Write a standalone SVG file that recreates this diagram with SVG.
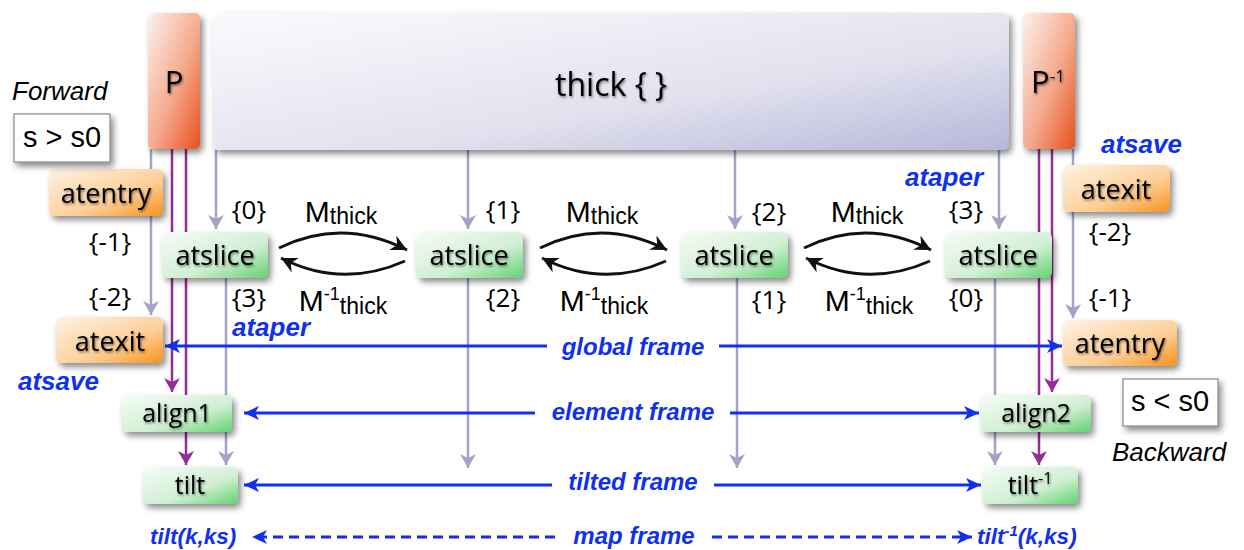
<svg xmlns="http://www.w3.org/2000/svg" width="1244" height="550" viewBox="0 0 1244 550">
<defs>
  <linearGradient id="gGreen" x1="0" y1="0" x2="1" y2="1">
    <stop offset="0" stop-color="#f6fcf6"/>
    <stop offset="0.6" stop-color="#d0efd3"/>
    <stop offset="1" stop-color="#62d270"/>
  </linearGradient>
  <linearGradient id="gOrange" x1="0" y1="0" x2="1" y2="1">
    <stop offset="0" stop-color="#fff2e4"/>
    <stop offset="0.6" stop-color="#fdcf98"/>
    <stop offset="1" stop-color="#f7921c"/>
  </linearGradient>
  <linearGradient id="gRed" x1="0" y1="0" x2="1" y2="1">
    <stop offset="0" stop-color="#fdf2ee"/>
    <stop offset="0.55" stop-color="#f4a88a"/>
    <stop offset="1" stop-color="#e8501c"/>
  </linearGradient>
  <linearGradient id="gThick" x1="0" y1="0" x2="1" y2="1">
    <stop offset="0" stop-color="#fafafd"/>
    <stop offset="0.6" stop-color="#e2e2ef"/>
    <stop offset="1" stop-color="#b6b6da"/>
  </linearGradient>
  <filter id="shadow" x="-20%" y="-20%" width="150%" height="150%">
    <feDropShadow dx="3" dy="4" stdDeviation="3" flood-color="#000" flood-opacity="0.45"/>
  </filter>
  <filter id="tshadow" x="-10%" y="-20%" width="130%" height="150%">
    <feDropShadow dx="1" dy="1.5" stdDeviation="1" flood-color="#000" flood-opacity="0.5"/>
  </filter>
  <marker id="aGray" markerUnits="userSpaceOnUse" markerWidth="16" markerHeight="16" refX="14" refY="8" orient="auto">
    <path d="M0,0 L14,8 L0,16 L4,8 Z" fill="#a3a3c8"/>
  </marker>
  <marker id="aPurple" markerUnits="userSpaceOnUse" markerWidth="16" markerHeight="16" refX="14" refY="8" orient="auto">
    <path d="M0,0 L14,8 L0,16 L4,8 Z" fill="#952b95"/>
  </marker>
  <marker id="aBlue" markerUnits="userSpaceOnUse" markerWidth="16" markerHeight="14" refX="15" refY="7" orient="auto">
    <path d="M0,0 L15,7 L0,14 L4,7 Z" fill="#1030f0"/>
  </marker>
  <marker id="aBlack" markerUnits="userSpaceOnUse" markerWidth="18" markerHeight="16" refX="16" refY="8" orient="auto">
    <path d="M0,0 L16,8 L0,16 L5,8 Z" fill="#111"/>
  </marker>
  <style>
    .node { filter: url(#shadow); }
    .green { fill: url(#gGreen); }
    .orange { fill: url(#gOrange); }
    .red { fill: url(#gRed); }
    .thick { fill: url(#gThick); }
    .box { fill: #fff; stroke: #888; stroke-width: 1.2; }
    .lbl { font-family: "Open Sans", "DejaVu Sans", sans-serif; font-size: 27px; fill: #000; text-anchor: middle; dominant-baseline: central; filter: url(#tshadow); }
    .gray { stroke: #a3a3c8; stroke-width: 2.5; fill: none; marker-end: url(#aGray); }
    .purple { stroke: #952b95; stroke-width: 2.5; fill: none; }
    .pa { marker-end: url(#aPurple); }
    .blue { stroke: #1030f0; stroke-width: 3; fill: none; }
    .dash { stroke-dasharray: 10 6; }
    .black { stroke: #111; stroke-width: 3; fill: none; marker-end: url(#aBlack); }
    .ab { marker-end: url(#aBlue); }
    .br { font-family: "Open Sans", "DejaVu Sans", sans-serif; font-size: 26px; fill: #000; text-anchor: middle; dominant-baseline: central; }
    .bl { font-family: "Liberation Sans", Arial, sans-serif; font-weight: bold; font-style: italic; font-size: 24px; fill: #1030f0; }
    .bls { font-family: "Liberation Sans", Arial, sans-serif; font-weight: bold; font-style: italic; font-size: 22.5px; fill: #1030f0; }
    .bl2 { font-family: "Liberation Sans", Arial, sans-serif; font-weight: bold; font-style: italic; font-size: 26px; fill: #1030f0; }
    .m { font-family: "Liberation Sans", Arial, sans-serif; font-size: 30px; fill: #000; text-anchor: middle; }
    .side { font-family: "Liberation Sans", Arial, sans-serif; font-style: italic; font-size: 26px; fill: #000; }
    .cond { font-family: "Liberation Sans", Arial, sans-serif; font-size: 29px; fill: #000; text-anchor: middle; dominant-baseline: central; }
  </style>
</defs>
<rect width="1244" height="550" fill="#fff"/>

<g id="connectors">
  <line class="gray" x1="151" y1="149" x2="151" y2="315"/>
  <line class="gray" x1="216" y1="150" x2="216" y2="229"/>
  <line class="gray" x1="226" y1="278" x2="226" y2="465"/>
  <line class="gray" x1="468" y1="150" x2="468" y2="229"/>
  <line class="gray" x1="468" y1="278" x2="468" y2="468"/>
  <line class="gray" x1="735" y1="150" x2="735" y2="229"/>
  <line class="gray" x1="737" y1="278" x2="737" y2="468"/>
  <line class="gray" x1="999" y1="150" x2="999" y2="229"/>
  <line class="gray" x1="995" y1="279" x2="995" y2="465"/>
  <line class="gray" x1="1073" y1="149" x2="1073" y2="318"/>
  <line class="purple pa" x1="172" y1="149" x2="172" y2="392"/>
  <line class="purple pa" x1="186" y1="149" x2="186" y2="465"/>
  <line class="purple pa" x1="1039" y1="149" x2="1039" y2="465"/>
  <line class="purple pa" x1="1052" y1="149" x2="1052" y2="392"/>
  <path class="black" d="M279,248 Q342,217 407,250"/>
  <path class="black" d="M405,261 Q342,289 281,258"/>
  <path class="black" d="M540,248 Q603,217 667,250"/>
  <path class="black" d="M666,261 Q603,289 542,258"/>
  <path class="black" d="M804,248 Q867,217 931,250"/>
  <path class="black" d="M930,261 Q867,289 806,258"/>
  <line class="blue ab" x1="547" y1="346" x2="165" y2="346"/>
  <line class="blue ab" x1="719" y1="346" x2="1062" y2="346"/>
  <line class="blue ab" x1="535" y1="413" x2="244" y2="413"/>
  <line class="blue ab" x1="730" y1="413" x2="979" y2="413"/>
  <line class="blue ab" x1="552" y1="485" x2="244" y2="485"/>
  <line class="blue ab" x1="714" y1="485" x2="981" y2="485"/>
  <line class="blue dash ab" x1="555" y1="537" x2="252" y2="537"/>
  <line class="blue dash ab" x1="712" y1="537" x2="972" y2="537"/>
</g>

<g id="P">
  <rect class="node red" x="148" y="13" width="52" height="136" rx="5"/>
  <text class="lbl" x="174" y="81" style="font-size:31px">P</text>
</g>
<g id="thick">
  <rect class="node thick" x="213" y="13" width="796" height="137" rx="6"/>
  <text class="lbl" x="611" y="83" style="font-size:32px">thick { }</text>
</g>
<g id="Pinv">
  <rect class="node red" x="1023" y="13" width="52" height="136" rx="5"/>
  <text class="lbl" x="1048" y="81" style="font-size:31px">P<tspan font-size="17" dy="-6">-1</tspan></text>
</g>
<g id="atentry-left">
  <rect class="node orange" x="49" y="169" width="114" height="47" rx="6"/>
  <text class="lbl" x="106" y="192">atentry</text>
</g>
<g id="atexit-left">
  <rect class="node orange" x="56" y="317" width="107" height="46" rx="6"/>
  <text class="lbl" x="110" y="340">atexit</text>
</g>
<g id="atslice0">
  <rect class="node green" x="162" y="232" width="106" height="46" rx="6"/>
  <text class="lbl" x="215" y="254">atslice</text>
</g>
<g id="atslice1">
  <rect class="node green" x="416" y="232" width="107" height="46" rx="6"/>
  <text class="lbl" x="469" y="254">atslice</text>
</g>
<g id="atslice2">
  <rect class="node green" x="681" y="232" width="107" height="46" rx="6"/>
  <text class="lbl" x="734" y="254">atslice</text>
</g>
<g id="atslice3">
  <rect class="node green" x="945" y="232" width="107" height="46" rx="6"/>
  <text class="lbl" x="998" y="254">atslice</text>
</g>
<g id="atexit-right">
  <rect class="node orange" x="1063" y="165" width="107" height="47" rx="6"/>
  <text class="lbl" x="1116" y="188">atexit</text>
</g>
<g id="atentry-right">
  <rect class="node orange" x="1063" y="320" width="114" height="46" rx="6"/>
  <text class="lbl" x="1120" y="342">atentry</text>
</g>
<g id="align1">
  <rect class="node green" x="122" y="395" width="110" height="37" rx="5"/>
  <text class="lbl" x="177" y="412" style="font-size:25px">align1</text>
</g>
<g id="tilt">
  <rect class="node green" x="143" y="467" width="95" height="37" rx="5"/>
  <text class="lbl" x="190" y="484" style="font-size:25px">tilt</text>
</g>
<g id="align2">
  <rect class="node green" x="981" y="395" width="110" height="37" rx="5"/>
  <text class="lbl" x="1036" y="412" style="font-size:25px">align2</text>
</g>
<g id="tiltinv">
  <rect class="node green" x="983" y="467" width="95" height="37" rx="5"/>
  <text class="lbl" x="1030" y="484" style="font-size:25px">tilt<tspan font-size="16" dy="-6">-1</tspan></text>
</g>
<g id="forward-cond">
  <rect class="box node" x="14" y="114" width="96" height="48"/>
  <text class="cond" x="62" y="137">s &gt; s0</text>
</g>
<g id="backward-cond">
  <rect class="box node" x="1123" y="379" width="95" height="47"/>
  <text class="cond" x="1170" y="401">s &lt; s0</text>
</g>

<g id="labels">
  <text class="side" x="12" y="100">Forward</text>
  <text class="side" x="1112" y="461">Backward</text>

  <text class="br" x="249" y="209">{0}</text>
  <text class="br" x="249" y="297">{3}</text>
  <text class="br" x="503" y="209">{1}</text>
  <text class="br" x="503" y="297">{2}</text>
  <text class="br" x="769" y="211">{2}</text>
  <text class="br" x="769" y="299">{1}</text>
  <text class="br" x="966" y="209">{3}</text>
  <text class="br" x="966" y="297">{0}</text>
  <text class="br" x="110" y="241">{-1}</text>
  <text class="br" x="110" y="296">{-2}</text>
  <text class="br" x="1110" y="231">{-2}</text>
  <text class="br" x="1110" y="297">{-1}</text>

  <text class="m" x="341" y="222">M<tspan font-size="23" dy="2">thick</tspan></text>
  <text class="m" x="343" y="311">M<tspan font-size="18" dy="-11">-1</tspan><tspan font-size="23" dy="14">thick</tspan></text>
  <text class="m" x="602" y="222">M<tspan font-size="23" dy="2">thick</tspan></text>
  <text class="m" x="604" y="311">M<tspan font-size="18" dy="-11">-1</tspan><tspan font-size="23" dy="14">thick</tspan></text>
  <text class="m" x="867" y="222">M<tspan font-size="23" dy="2">thick</tspan></text>
  <text class="m" x="869" y="311">M<tspan font-size="18" dy="-11">-1</tspan><tspan font-size="23" dy="14">thick</tspan></text>

  <text class="bl2" x="18" y="390">atsave</text>
  <text class="bl2" x="1101" y="153">atsave</text>
  <text class="bl2" x="232" y="336">ataper</text>
  <text class="bl2" x="905" y="186">ataper</text>

  <text class="bl" x="633" y="355" text-anchor="middle">global frame</text>
  <text class="bl" x="633" y="420" text-anchor="middle">element frame</text>
  <text class="bl" x="633" y="490" text-anchor="middle">tilted frame</text>
  <text class="bl" x="634" y="544" text-anchor="middle">map frame</text>
  <text class="bls" x="150" y="544">tilt(k,ks)</text>
  <text class="bls" x="977" y="544">tilt<tspan font-size="15" dy="-8">-1</tspan><tspan dy="8">(k,ks)</tspan></text>
</g>
</svg>
